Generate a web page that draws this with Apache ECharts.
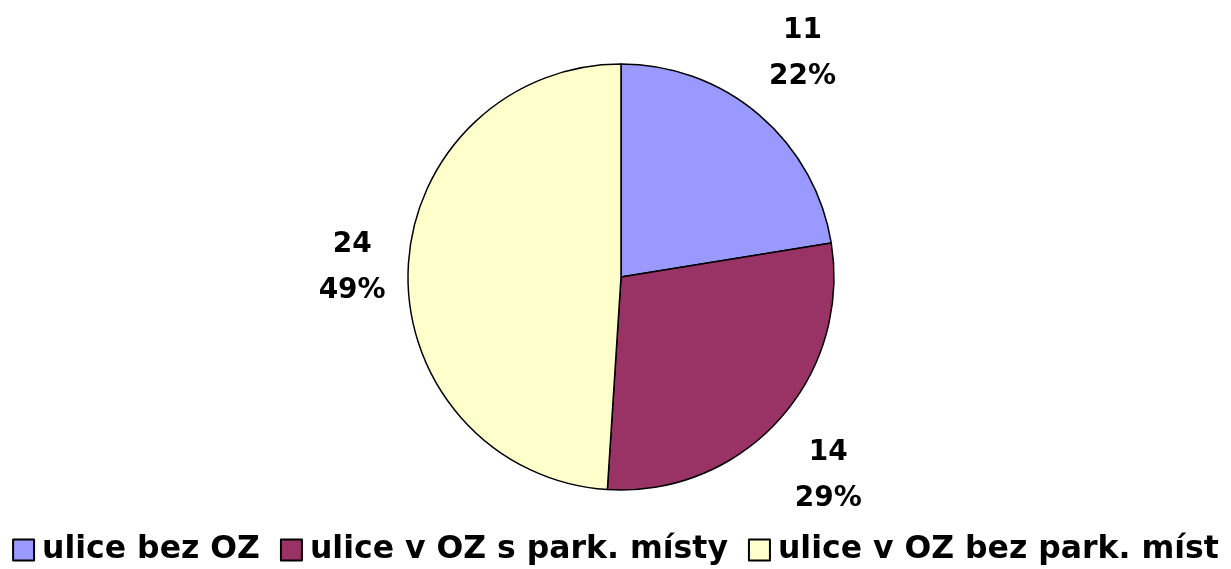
<!DOCTYPE html>
<html>
<head>
<meta charset="utf-8">
<script src="https://cdn.jsdelivr.net/npm/echarts@6/dist/echarts.min.js"></script>
<style>html,body{margin:0;padding:0;background:#fff}#c{width:1231px;height:569px}</style>
</head>
<body>
<div id="c"></div>
<script>
const categories = ['ulice bez OZ', 'ulice v OZ s park. místy', 'ulice v OZ bez park. míst'];
const values = [11, 14, 24];
const colors = ['#9999FF', '#993366', '#FFFFCC'];

const total = values.reduce((a, b) => a + b, 0);
const data = categories.map((n, i) => ({ name: n, value: values[i], itemStyle: { color: colors[i] } }));
const labelData = categories.map((n, i) => ({ name: n, value: values[i] }));
const labelNudge = [[0, -10], [0, 10], [11, 0]];

const chart = echarts.init(document.getElementById('c'), null, { renderer: 'canvas' });
chart.setOption({
  animation: false,
  backgroundColor: '#fff',
  legend: {
    data: categories,
    top: 529,
    left: 'center',
    icon: 'rect',
    itemWidth: 21,
    itemHeight: 21,
    itemGap: 20,
    textStyle: { fontFamily: 'DejaVu Sans', fontWeight: 'bold', fontSize: 31.5, color: '#000', padding: [0, 0, 0, 3] },
    itemStyle: { borderColor: '#000', borderWidth: 2 }
  },
  series: [
    {
      type: 'pie',
      center: [621, 277],
      radius: [0, 213],
      startAngle: 90,
      clockwise: true,
      label: { show: false },
      labelLine: { show: false },
      itemStyle: { borderColor: '#000', borderWidth: 1.5 },
      emphasis: { disabled: true },
      data: data
    },
    {
      type: 'pie',
      center: [621, 277],
      radius: [0, 554],
      startAngle: 90,
      clockwise: true,
      silent: true,
      itemStyle: { color: 'rgba(0,0,0,0)', borderWidth: 0 },
      labelLine: { show: false },
      label: {
        show: true,
        position: 'inside',
        fontFamily: 'DejaVu Sans',
        fontWeight: 'bold',
        fontSize: 28,
        lineHeight: 46,
        color: '#000',
        formatter: p => p.value + '\n' + Math.round(p.value / total * 100) + '%'
      },
      labelLayout: p => ({ dx: labelNudge[p.dataIndex][0], dy: labelNudge[p.dataIndex][1] }),
      emphasis: { disabled: true },
      data: labelData
    }
  ]
});
</script>
</body>
</html>
